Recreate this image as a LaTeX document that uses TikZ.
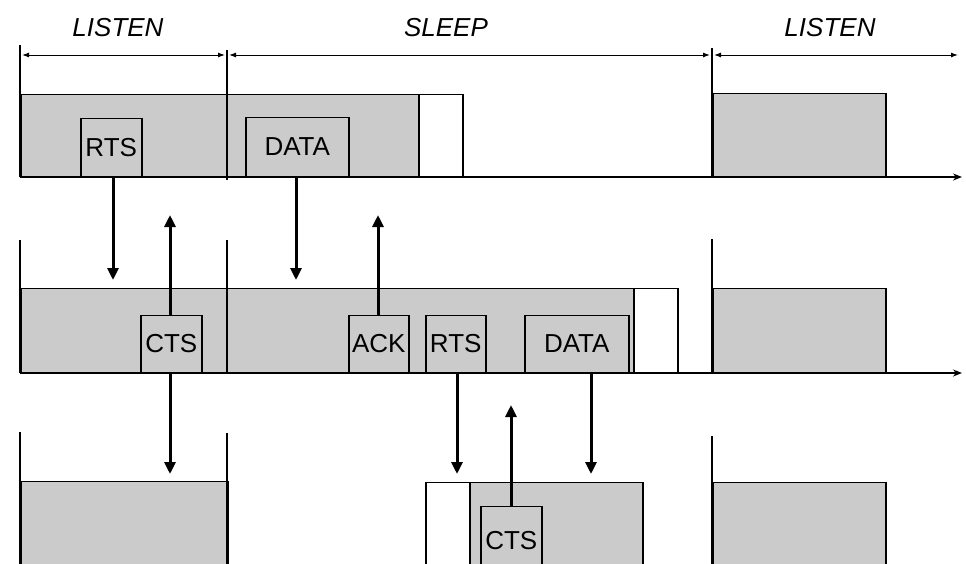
\documentclass[tikz,border=0pt]{standalone}
\usepackage{fontspec}
\setmainfont{Liberation Sans}
\usetikzlibrary{arrows.meta,positioning}
\definecolor{shade}{HTML}{CBCBCB}
\tikzset{awake/.style={draw,fill=shade,line width=1.5pt,inner sep=0pt,anchor=south west},
  idle/.style={draw,fill=white,line width=1.5pt,inner sep=0pt,anchor=south west},
  packet/.style={draw,fill=shade,line width=1.5pt,inner sep=0pt,anchor=south west,
  minimum height=57pt,font=\fontsize{26}{26}\selectfont},
  phase/.style={font=\fontsize{26}{26}\selectfont\itshape},
  msg/.style={-{Triangle[length=12pt,width=11pt]},line width=3pt},
  axis/.style={-{Stealth[length=9pt,width=7pt]},line width=1.5pt},
  bound/.style={line width=1.2pt},
  span/.style={{Latex[length=7pt,width=5pt]}-{Latex[length=7pt,width=5pt]},line width=1pt}}
\begin{document}
\begin{tikzpicture}[x=1pt,y=-1pt]
\clip (0,0) rectangle (966,563);
% schedule
\node[phase] (ph1) at (118,28) {LISTEN};
\node[phase] (ph2) at (446,28) {SLEEP};
\node[phase] (ph3) at (830,28) {LISTEN};
\draw[span] (22,55) -- (225,55);
\draw[span] (229,55) -- (710,55);
\draw[span] (714,55) -- (958,55);
% node 1
\node[awake,minimum width=398pt,minimum height=82pt] (on1) at (20,177) {};
\node[idle,minimum width=44pt,minimum height=82pt] (off1) at (418,177) {};
\node[awake,minimum width=173pt,minimum height=83pt] (on1b) at (712,177) {};
\draw[axis] (20,177) -- (962,177);
\draw[bound] (20,45) -- (20,177);
\draw[bound] (227,50) -- (227,180);
\draw[bound] (712,48) -- (712,177);
\node[packet,minimum width=61pt,minimum height=58pt] (rts1) at (80,177) {RTS};
\node[packet,minimum width=103pt,minimum height=59pt] (data1) at (245,177) {DATA};
% node 2
\node[awake,minimum width=613pt,minimum height=84pt] (on2) at (20,373) {};
\node[idle,minimum width=44pt,minimum height=84pt] (off2) at (633,373) {};
\node[awake,minimum width=173pt,minimum height=84pt] (on2b) at (712,373) {};
\draw[axis] (20,373) -- (962,373);
\draw[bound] (20,240) -- (20,373);
\draw[bound] (227,240) -- (227,373);
\draw[bound] (712,239) -- (712,373);
\node[packet,minimum width=61pt] (cts2) at (140,373) {CTS};
\node[packet,minimum width=60pt] (ack2) at (348,373) {ACK};
\node[packet,minimum width=60pt] (rts2) at (425,373) {RTS};
\node[packet,minimum width=104pt] (data2) at (524,373) {DATA};
% node 3
\node[awake,minimum width=207pt,minimum height=118pt] (on3) at (20,600) {};
\node[idle,minimum width=44pt,minimum height=117pt] (off3) at (425,600) {};
\node[awake,minimum width=173pt,minimum height=117pt] (on3a) at (469,600) {};
\node[awake,minimum width=173pt,minimum height=117pt] (on3b) at (712,600) {};
\draw[bound] (20,432) -- (20,600);
\draw[bound] (227,433) -- (227,600);
\draw[bound] (712,436) -- (712,600);
\node[packet,minimum width=61pt,minimum height=68pt] (cts3) at (480,575) {CTS};
% messages
\coordinate (r1) at (113,280);
\coordinate (d1) at (296,280);
\coordinate (c2) at (170,215);
\coordinate (k2) at (378,215);
\coordinate (c2d) at (170,474);
\coordinate (r2) at (457,474);
\coordinate (d2) at (591,474);
\coordinate (c3) at (511,405);
\foreach \a/\b in {rts1/r1,data1/d1,cts2/c2d,rts2/r2,data2/d2}
\draw[msg] (\a.south -| \b) -- (\b);
\foreach \a/\b in {cts2/c2,ack2/k2,cts3/c3}
\draw[msg] (\a.north -| \b) -- (\b);
\end{tikzpicture}
\end{document}
